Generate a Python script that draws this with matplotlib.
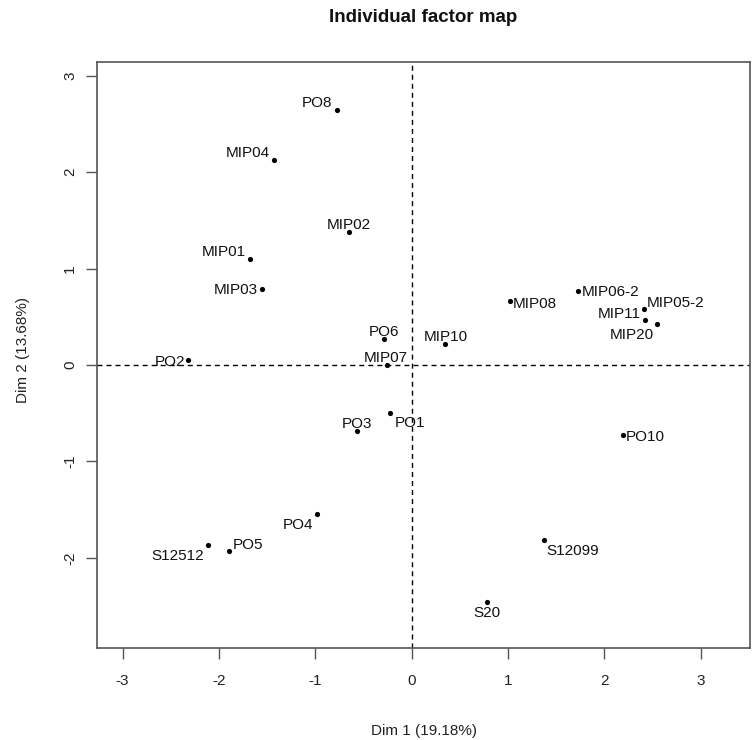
import matplotlib
matplotlib.use('Agg')
import matplotlib.pyplot as plt

plt.rcParams['font.family'] = ['Liberation Sans', 'DejaVu Sans']
plt.rcParams['axes.unicode_minus'] = False

names = ['PO8', 'MIP04', 'MIP02', 'MIP01', 'MIP03', 'PO6', 'PO2', 'MIP07',
         'MIP08', 'MIP06-2', 'MIP11', 'MIP05-2', 'MIP20', 'MIP10', 'PO10',
         'PO1', 'PO3', 'PO4', 'PO5', 'S12512', 'S12099', 'S20']
dim1 = [-0.78, -1.43, -0.65, -1.68, -1.55, -0.29, -2.32, -0.26,
        1.02, 1.73, 2.41, 2.55, 2.42, 0.35, 2.19,
        -0.22, -0.57, -0.98, -1.90, -2.11, 1.37, 0.78]
dim2 = [2.65, 2.13, 1.38, 1.10, 0.79, 0.27, 0.05, 0.00,
        0.66, 0.77, 0.58, 0.42, 0.47, 0.22, -0.73,
        -0.50, -0.68, -1.55, -1.93, -1.87, -1.82, -2.46]
xlab = 'Dim 1 (19.18%)'
ylab = 'Dim 2 (13.68%)'
title = 'Individual factor map'

# label placement: (dx px, dy px, ha)
label_pos = {
    'PO8': (-4, 8, 'right'), 'MIP04': (-4, 8, 'right'), 'MIP02': (0, 8, 'center'),
    'MIP01': (-4, 8, 'right'), 'MIP03': (-4, 0, 'right'), 'PO6': (0, 8, 'center'),
    'PO2': (-3, 0, 'right'), 'MIP07': (-1, 8, 'center'), 'MIP08': (3, -1, 'left'),
    'MIP06-2': (3, 0, 'left'), 'MIP11': (-3, -3, 'right'), 'MIP05-2': (-11, 23, 'left'),
    'MIP20': (-13, -14, 'center'), 'MIP10': (0, 8, 'center'), 'PO10': (3, 0, 'left'),
    'PO1': (4, -8, 'left'), 'PO3': (0, 8, 'center'), 'PO4': (-4, -9, 'right'),
    'PO5': (4, 8, 'left'), 'S12512': (-4, -9, 'right'), 'S12099': (3, -9, 'left'),
    'S20': (0, -9, 'center'),
}

W, H = 752, 740
fig = plt.figure(figsize=(W / 100, H / 100), dpi=100)
ax = fig.add_axes([96.7 / W, 1 - 647.7 / H, (750 - 96.7) / W, (647.7 - 61.7) / H])

ax.axvline(0, color='black', lw=1, linestyle=(0, (3.6, 2.9)), zorder=1)
ax.axhline(0, color='black', lw=1, linestyle=(0, (3.6, 2.9)), zorder=1)
ax.scatter(dim1, dim2, s=14, color='black', zorder=3, linewidths=0)

for n, x, y in zip(names, dim1, dim2):
    dx, dy, ha = label_pos[n]
    ax.annotate(n, (x, y), xytext=(dx, dy), textcoords='offset pixels',
                ha=ha, va='center_baseline', fontsize=11, color='#111111')

ax.set_xlim(-3.268, 3.51)
ax.set_ylim(-2.933, 3.146)
ax.set_xticks([-3, -2, -1, 0, 1, 2, 3])
ax.set_yticks([-2, -1, 0, 1, 2, 3])
for s in ax.spines.values():
    s.set_color('#555555')
    s.set_linewidth(1.2)
ax.tick_params(axis='both', length=8, width=1, color='#555555', labelsize=11,
               labelcolor='#222222')
ax.tick_params(axis='x', pad=11)
ax.tick_params(axis='y', pad=6)
for t in ax.get_yticklabels():
    t.set_rotation(90)
    t.set_va('center')

fig.text(423 / W, 1 - 22 / H, title, ha='center', va='baseline', fontsize=13.5,
         fontweight='bold', color='#111111')
fig.text(424 / W, 1 - 731 / H, xlab, ha='center', va='center', fontsize=11,
         color='#222222')
fig.text(23 / W, 1 - 350 / H, ylab, ha='center', va='center', fontsize=11,
         rotation=90, color='#222222')

fig.savefig('out.png', dpi=100)
